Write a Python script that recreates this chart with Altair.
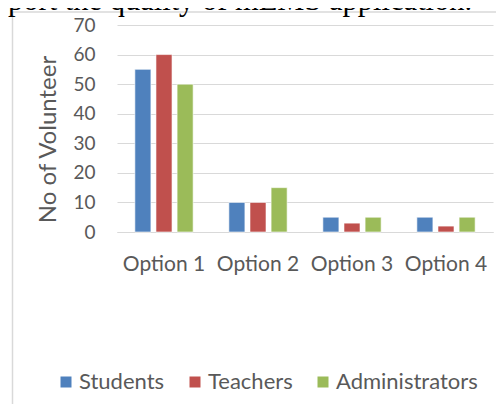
import altair as alt
import pandas as pd

options = ["Option 1", "Option 2", "Option 3", "Option 4"]
groups = ["Students", "Teachers", "Administrators"]
students = [55, 10, 5, 5]
teachers = [60, 10, 3, 2]
administrators = [50, 15, 5, 5]
colors = ["#4F81BD", "#C0504D", "#9BBB59"]
y_ticks = [0, 10, 20, 30, 40, 50, 60, 70]
caption = "port the quality of mEMS application."

rows = []
for g, vals in zip(groups, [students, teachers, administrators]):
    for o, v in zip(options, vals):
        rows.append({"Option": o, "Group": g, "Value": v})
df = pd.DataFrame(rows)

FONT = "Lato"
GREY = "#595959"

bars = alt.Chart(df).mark_bar(stroke="white", strokeWidth=0.6).encode(
    x=alt.X("Option:N", sort=options,
            scale=alt.Scale(paddingInner=0.38, paddingOuter=0.19),
            axis=alt.Axis(title=None, labelAngle=0, ticks=False, labelPadding=21,
                          domainColor="#d9d9d9", labelFontSize=21, labelColor=GREY,
                          labelFont=FONT)),
    xOffset=alt.XOffset("Group:N", sort=groups,
                        scale=alt.Scale(paddingInner=0.24, paddingOuter=0)),
    y=alt.Y("Value:Q", scale=alt.Scale(domain=[0, 70]),
            axis=alt.Axis(title="No of Volunteer", values=y_ticks, ticks=False,
                          domain=False, labelPadding=22, gridColor="#d9d9d9",
                          labelFontSize=19, labelColor=GREY, labelFont=FONT,
                          titleFontSize=24, titleColor=GREY, titleFont=FONT,
                          titleFontWeight="normal", titleAngle=270,
                          titleX=-69, titleY=114, titleAlign="center",
                          titleBaseline="middle")),
    color=alt.Color("Group:N", sort=groups,
                    scale=alt.Scale(domain=groups, range=colors),
                    legend=alt.Legend(title=None, orient="none", direction="horizontal",
                                      legendX=-62, legendY=346, symbolType="square",
                                      symbolSize=121, symbolStrokeWidth=0,
                                      labelFontSize=22, labelColor=GREY, labelFont=FONT,
                                      labelOffset=2, columnPadding=19)),
)

cap = alt.Chart(pd.DataFrame({"t": [caption]})).mark_text(
    font="Liberation Serif", fontSize=30.5, align="left", baseline="alphabetic", color="black"
).encode(x=alt.value(-109), y=alt.value(-15), text="t:N")

left_border = alt.Chart(pd.DataFrame({"a": [0]})).mark_rule(color="#d9d9d9", strokeWidth=1.5).encode(
    x=alt.value(-104.5), y=alt.value(-13), y2=alt.value(400))
top_border = alt.Chart(pd.DataFrame({"a": [0]})).mark_rule(color="#d9d9d9", strokeWidth=1.5).encode(
    x=alt.value(-104.5), x2=alt.value(400), y=alt.value(-13))

chart = alt.layer(left_border, top_border, bars, cap).properties(
    width=376, height=207,
    padding={"left": 109, "top": 17, "right": 3, "bottom": 172},
    autosize=alt.AutoSizeParams(type="none"),
).configure_view(stroke=None)

chart.save("out.html", embed_options={"renderer": "svg", "actions": False})
